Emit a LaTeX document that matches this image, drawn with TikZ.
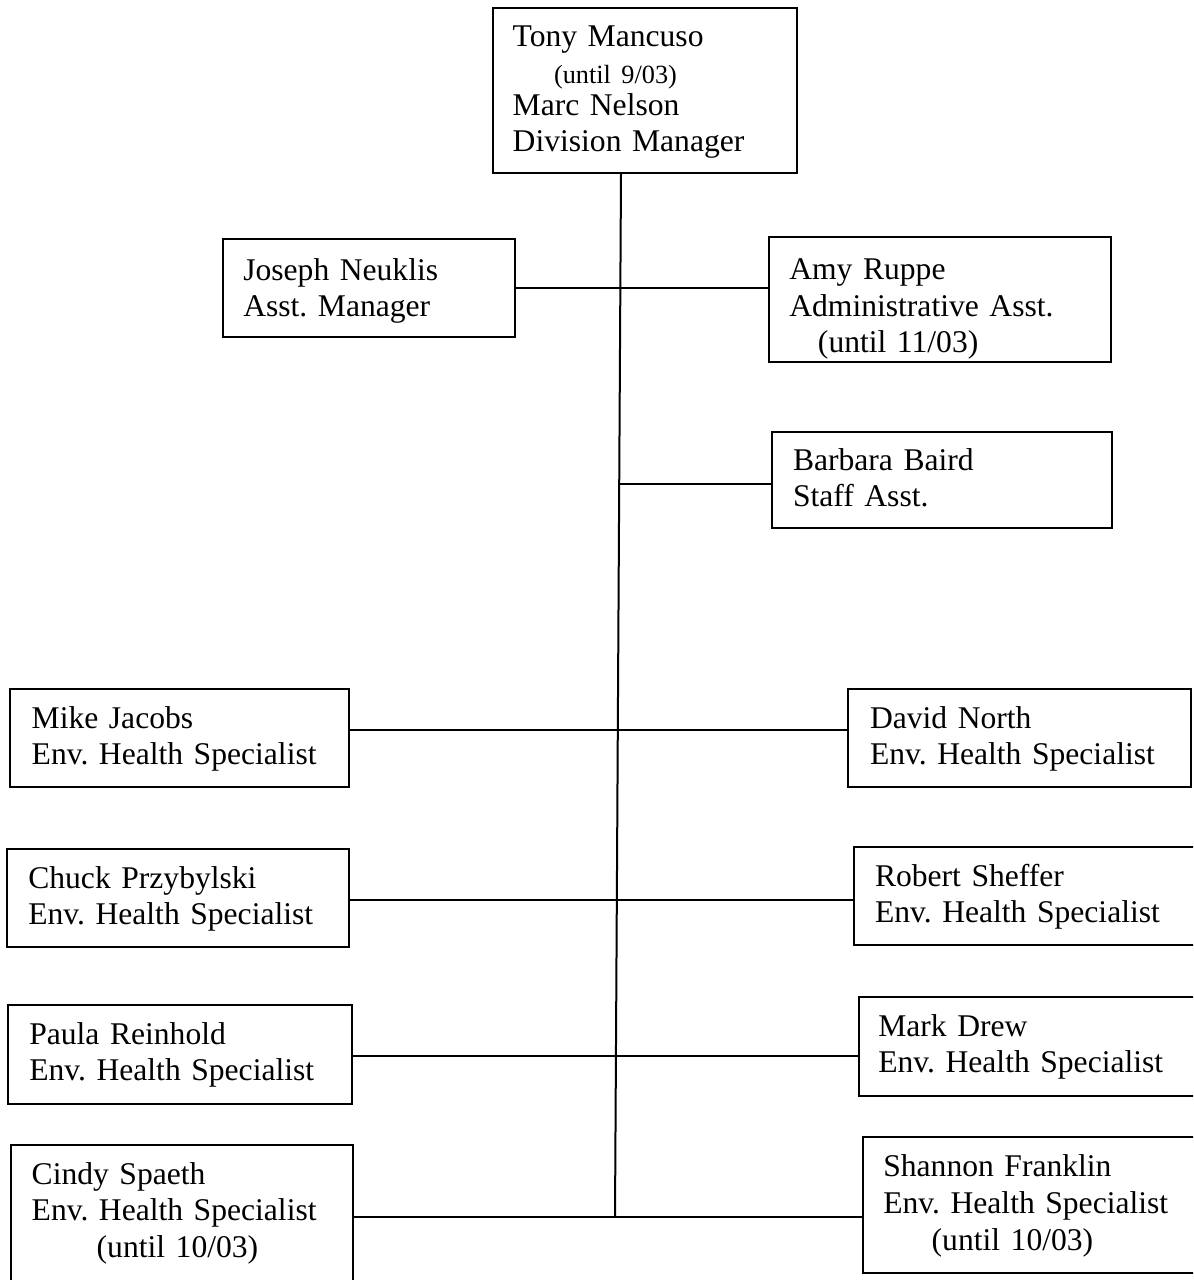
\documentclass[tikz,border=0pt]{standalone}
\usepackage{fontspec}
\setmainfont{Liberation Serif}
\usetikzlibrary{fit}
\begin{document}
\frenchspacing
\begin{tikzpicture}[x=0.75pt,y=-0.75pt,
  box/.style={rectangle, draw, line width=1.4pt, inner sep=0pt, outer sep=0pt},
  tx/.style={anchor=base west, inner sep=0pt, outer sep=0pt, text width=330pt,
    align=left, font=\fontsize{23.7}{27.5}\selectfont\frenchspacing},
  link/.style={line width=1.5pt}]
\useasboundingbox (0,0) rectangle (1193,1280);
\clip (0,0) rectangle (1193,1280);

% frames of the positions
\node[box, fit={(492.7,8.3) (796.7,173.3)}]    (top)     {};
\node[box, fit={(222.7,239) (515,337)}]        (joseph)  {};
\node[box, fit={(769,237.3) (1111,361.7)}]     (amy)     {};
\node[box, fit={(771.7,431.7) (1112,528)}]     (barbara) {};
\node[box, fit={(10,689) (349,787)}]           (mike)    {};
\node[box, fit={(848.3,689.3) (1191,786.7)}]   (david)   {};
\node[box, fit={(6.7,849.3) (349,946.7)}]      (chuck)   {};
\node[box, fit={(854.3,846.7) (1205,945)}]     (robert)  {};
\node[box, fit={(8.3,1005) (351.7,1104)}]      (paula)   {};
\node[box, fit={(859.3,996.7) (1205,1096)}]    (mark)    {};
\node[box, fit={(10.7,1145) (353.3,1290)}]     (cindy)   {};
\node[box, fit={(862.7,1137.3) (1205,1272.7)}] (shannon) {};

% names and titles
\node[tx] (topT) at (512.7,46.7) {Tony Mancuso\\
  \hspace*{31pt}{\fontsize{19.7}{27.5}\selectfont (until 9/03)}\\[-3.7pt]
  Marc Nelson\\Division Manager};
\node[tx] (josephT)  at (243.3,280)   {Joseph Neuklis\\Asst. Manager};
\node[tx] (amyT)     at (789.3,279.5) {Amy Ruppe\\Administrative Asst.\\\hspace*{21.5pt}(until 11/03)};
\node[tx] (barbaraT) at (793,470)     {Barbara Baird\\Staff Asst.};
\node[tx] (mikeT)    at (31.7,728.3)  {Mike Jacobs\\Env. Health Specialist};
\node[tx] (davidT)   at (870,728.3)   {David North\\Env. Health Specialist};
\node[tx] (chuckT)   at (28.3,888)    {Chuck Przybylski\\Env. Health Specialist};
\node[tx] (robertT)  at (875,886)     {Robert Sheffer\\Env. Health Specialist};
\node[tx] (paulaT)   at (29.3,1044)   {Paula Reinhold\\Env. Health Specialist};
\node[tx] (markT)    at (878.3,1036)  {Mark Drew\\Env. Health Specialist};
\node[tx] (cindyT)   at (31.7,1184)   {Cindy Spaeth\\Env. Health Specialist\\\hspace*{48.75pt}(until 10/03)};
\node[tx] (shannonT) at (883.3,1176.7){Shannon Franklin\\Env. Health Specialist\\\hspace*{36.3pt}(until 10/03)};

% the trunk and the points where branches leave it
\coordinate (t0) at (621,173.3);
\coordinate (jA) at (620.3,287.5);
\coordinate (jB) at (619.2,484);
\coordinate (jC) at (617.8,729.6);
\coordinate (jD) at (616.8,900);
\coordinate (jE) at (615.9,1056.2);
\coordinate (t1) at (615,1217);

\draw[link] (t0) -- (t1);
\draw[link] (joseph.east |- jA) -- (amy.west |- jA);
\draw[link] (jB) -- (barbara.west |- jB);
\draw[link] (mike.east |- jC) -- (david.west |- jC);
\draw[link] (chuck.east |- jD) -- (robert.west |- jD);
\draw[link] (paula.east |- jE) -- (mark.west |- jE);
\draw[link] (cindy.east |- t1) -- (shannon.west |- t1);
\end{tikzpicture}
\end{document}
